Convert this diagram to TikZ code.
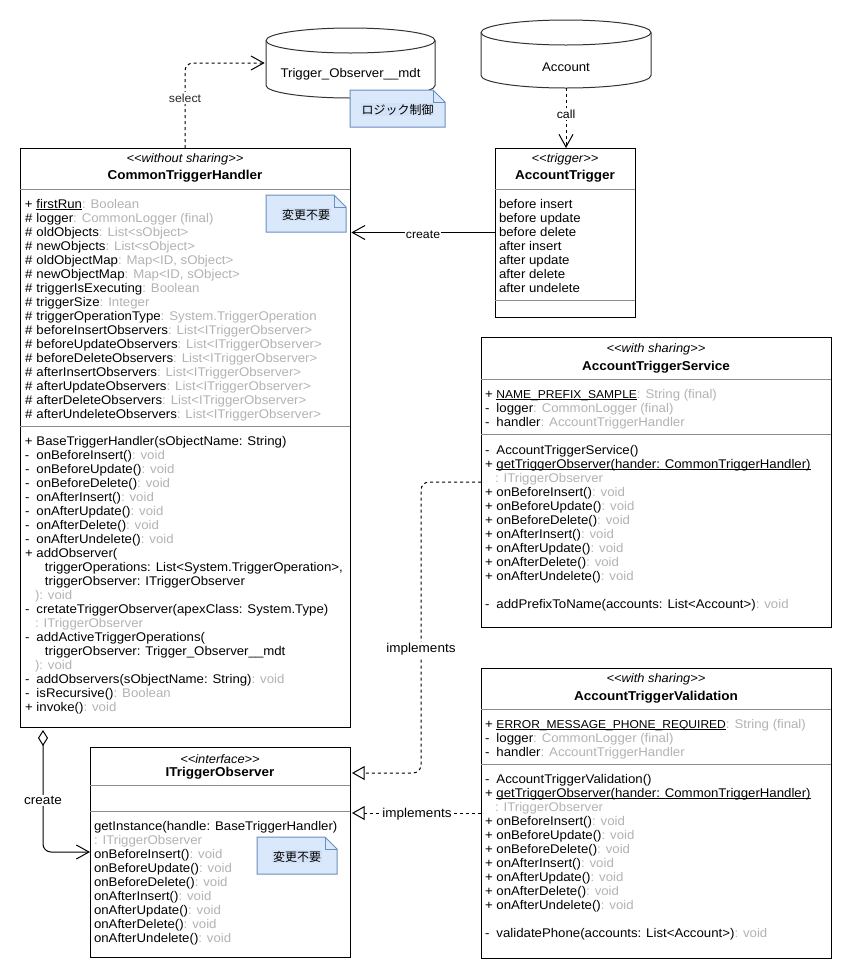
\documentclass[tikz,border=0pt]{standalone}
\usepackage{fontspec}
\setmainfont[FakeStretch=1.05,Ligatures=NoCommon]{Liberation Sans}
\newfontfamily\cjk{Noto Sans CJK JP}
\usetikzlibrary{arrows.meta,calc}
\definecolor{typegray}{HTML}{B3B3B3}
\definecolor{notefill}{HTML}{DAE8FC}
\definecolor{notetext}{HTML}{D2E1F6}
\definecolor{noteline}{HTML}{6C8EBF}
\newsavebox{\ulbox}
\newcommand{\ul}[1]{\sbox{\ulbox}{#1}\rlap{\rule[-1.1pt]{\wd\ulbox}{.55pt}}\usebox{\ulbox}}
\newcommand{\capsize}{\fontsize{8.6pt}{10.5pt}\selectfont}
\newcommand{\ty}[1]{\textcolor{typegray}{#1}}
\newcommand{\pl}{\makebox[8.6pt][l]{+}}
\newcommand{\mi}{\makebox[8.6pt][l]{-}}
\newcommand{\ha}{\makebox[8.6pt][l]{\#}}
\newcommand{\st}[1]{\textit{<{}<#1>{}>}}
\newcommand{\notebox}[6]{%
  \draw[notepath] (#1,#2) -- ++({#3-12},0) -- ++(12,12) -- ++(0,{#4-12}) -- ++(-#3,0) -- cycle;
  \draw[notepath,fill=none] ({#1+#3-12},#2) -- ++(0,12) -- ++(12,0);
  \node[notelabel] (#5) at ({#1+#3/2},{#2+#4/2+1}) {#6};}
\newcommand{\cyl}[5]{%
  \draw[dbline] (#1,{#2+12.5}) -- ++(0,{#4-25}) arc[start angle=180,end angle=0,x radius=#3/2,y radius=12.5] -- ++(0,{-(#4-25)}) arc[start angle=0,end angle=-180,x radius=#3/2,y radius=12.5] -- cycle;
  \draw[dbline,fill=none] (#1,{#2+12.5}) arc[start angle=180,end angle=0,x radius=#3/2,y radius=12.5];
  \node[dbnode,minimum width=#3*.75pt,minimum height=#4*.75pt] (#5) at ({#1+#3/2},{#2+#4/2}) {};}
\tikzset{
  x=.75pt,y=-.75pt,
  classbox/.style={draw=black,line width=.75pt,fill=white,anchor=north west,inner sep=0pt,outer sep=0pt},
  block/.style={anchor=north west,inner sep=0pt,outer sep=0pt,align=left,yshift=-1.1pt,font=\fontsize{9.45pt}{10.5pt}\selectfont},
  stereo/.style={inner sep=0pt,font=\fontsize{9.2pt}{10.5pt}\selectfont},
  title/.style={inner sep=0pt,font=\fontsize{9.65pt}{10.5pt}\selectfont\bfseries},
  plain/.style={inner sep=0pt,font=\fontsize{9.45pt}{10.5pt}\selectfont},
  divider/.style={draw=black!45,line width=.75pt},
  notepath/.style={draw=noteline,fill=notefill,line width=.75pt},
  notelabel/.style={inner sep=.5pt,fill=notetext,font=\fontsize{9pt}{10.5pt}\selectfont\cjk},
  dbline/.style={draw=black!80,fill=white,line width=.75pt},
  dbnode/.style={inner sep=0pt,outer sep=0pt},
  conn/.style={line width=.75pt,draw=black,rounded corners=6pt},
  dep/.style={conn,dash pattern=on 2.25pt off 2.25pt},
  openhead/.style={-{Straight Barb[length=9.5pt,width=10.5pt,line width=.75pt]}},
  hollow/.style={-{Triangle[open,fill=white,length=9.5pt,width=10.5pt,line width=.75pt]},shorten >=1.5pt},
  edgelabel/.style={inner sep=1pt,fill=white,font=\fontsize{8.8pt}{10pt}\selectfont},
  biglabel/.style={edgelabel,font=\fontsize{9.65pt}{10pt}\selectfont},
}
\begin{document}
\begin{tikzpicture}
\useasboundingbox[fill=white] (0,0) rectangle (851,979);

% databases
\cyl{266}{28}{169}{70}{mdt}
\cyl{481}{20}{170}{68}{acct}
\node[plain] (mdttext) at (350.5,74) {Trigger\_Observer\_\_mdt};
\node[plain] (accttext) at (566,67) {Account};
\notebox{350}{90}{95}{37}{noteLogic}{ロジック制御}

% CommonTriggerHandler
\node[classbox,minimum width=247.5pt,minimum height=434.25pt] (handler) at (20,148) {};
\draw[divider] ($(handler.north west)+(0,41)$) -- ++(330,0);
\draw[divider] ($(handler.north west)+(0,278)$) -- ++(330,0);
\node[stereo] (handlerst) at (185,159) {\st{without sharing}};
\node[title] (handlertt) at (185,176) {CommonTriggerHandler};
\node[block] (handlerattr) at (25,197) {\strut\pl\ul{firstRun}\ty{: Boolean}\\
\strut\ha logger\ty{: CommonLogger (final)}\\
\strut\ha oldObjects\ty{: List<sObject>}\\
\strut\ha newObjects\ty{: List<sObject>}\\
\strut\ha oldObjectMap\ty{: Map<ID, sObject>}\\
\strut\ha newObjectMap\ty{: Map<ID, sObject>}\\
\strut\ha triggerIsExecuting\ty{: Boolean}\\
\strut\ha triggerSize\ty{: Integer}\\
\strut\ha triggerOperationType\ty{: System.TriggerOperation}\\
\strut\ha beforeInsertObservers\ty{: List<ITriggerObserver>}\\
\strut\ha beforeUpdateObservers\ty{: List<ITriggerObserver>}\\
\strut\ha beforeDeleteObservers\ty{: List<ITriggerObserver>}\\
\strut\ha afterInsertObservers\ty{: List<ITriggerObserver>}\\
\strut\ha afterUpdateObservers\ty{: List<ITriggerObserver>}\\
\strut\ha afterDeleteObservers\ty{: List<ITriggerObserver>}\\
\strut\ha afterUndeleteObservers\ty{: List<ITriggerObserver>}};
\node[block] (handlermeth) at (25,434) {\strut\pl BaseTriggerHandler(sObjectName: String)\\
\strut\mi onBeforeInsert()\ty{: void}\\
\strut\mi onBeforeUpdate()\ty{: void}\\
\strut\mi onBeforeDelete()\ty{: void}\\
\strut\mi onAfterInsert()\ty{: void}\\
\strut\mi onAfterUpdate()\ty{: void}\\
\strut\mi onAfterDelete()\ty{: void}\\
\strut\mi onAfterUndelete()\ty{: void}\\
\strut\pl addObserver(\\
\strut\hspace*{15pt}triggerOperations: List<System.TriggerOperation>,\\
\strut\hspace*{15pt}triggerObserver: ITriggerObserver\\
\strut\hspace*{7.5pt}\ty{): void}\\
\strut\mi cretateTriggerObserver(apexClass: System.Type)\\
\strut\hspace*{7.5pt}\ty{: ITriggerObserver}\\
\strut\mi addActiveTriggerOperations(\\
\strut\hspace*{15pt}triggerObserver: Trigger\_Observer\_\_mdt\\
\strut\hspace*{7.5pt}\ty{): void}\\
\strut\mi addObservers(sObjectName: String)\ty{: void}\\
\strut\mi isRecursive()\ty{: Boolean}\\
\strut\pl invoke()\ty{: void}};
\notebox{266}{195}{80}{37}{noteHandler}{変更不要}

% AccountTrigger
\node[classbox,minimum width=105pt,minimum height=126.75pt] (trigger) at (495,148) {};
\draw[divider] ($(trigger.north west)+(0,41)$) -- ++(140,0);
\draw[divider] ($(trigger.north west)+(0,152)$) -- ++(140,0);
\node[stereo] (triggerst) at (565,159) {\st{trigger}};
\node[title] (triggertt) at (565,176) {AccountTrigger};
\node[block] (triggerattr) at (499,197) {\strut before insert\\
\strut before update\\
\strut before delete\\
\strut after insert\\
\strut after update\\
\strut after delete\\
\strut after undelete};

% AccountTriggerService
\node[classbox,minimum width=262.5pt,minimum height=217.5pt] (service) at (481,337) {};
\draw[divider] ($(service.north west)+(0,42)$) -- ++(350,0);
\draw[divider] ($(service.north west)+(0,97)$) -- ++(350,0);
\node[stereo] (servicest) at (656,349) {\st{with sharing}};
\node[title] (servicett) at (656,367) {AccountTriggerService};
\node[block] (serviceattr) at (485,387) {\strut\pl\ul{\capsize NAME\_PREFIX\_SAMPLE}\ty{: String (final)}\\
\strut\mi logger\ty{: CommonLogger (final)}\\
\strut\mi handler\ty{: AccountTriggerHandler}};
\node[block] (servicemeth) at (485,443) {\strut\mi AccountTriggerService()\\
\strut\pl\ul{getTriggerObserver(hander: CommonTriggerHandler)}\\
\strut\hspace*{7.5pt}\ty{: ITriggerObserver}\\
\strut\pl onBeforeInsert()\ty{: void}\\
\strut\pl onBeforeUpdate()\ty{: void}\\
\strut\pl onBeforeDelete()\ty{: void}\\
\strut\pl onAfterInsert()\ty{: void}\\
\strut\pl onAfterUpdate()\ty{: void}\\
\strut\pl onAfterDelete()\ty{: void}\\
\strut\pl onAfterUndelete()\ty{: void}\\
\strut\\
\strut\mi addPrefixToName(accounts: List<Account>)\ty{: void}};

% AccountTriggerValidation
\node[classbox,minimum width=262.5pt,minimum height=217.5pt] (validation) at (481,668) {};
\draw[divider] ($(validation.north west)+(0,41)$) -- ++(350,0);
\draw[divider] ($(validation.north west)+(0,96)$) -- ++(350,0);
\node[stereo] (validationst) at (656,679) {\st{with sharing}};
\node[title] (validationtt) at (656,697) {AccountTriggerValidation};
\node[block] (validationattr) at (485,717) {\strut\pl\ul{\capsize ERROR\_MESSAGE\_PHONE\_REQUIRED}\ty{: String (final)}\\
\strut\mi logger\ty{: CommonLogger (final)}\\
\strut\mi handler\ty{: AccountTriggerHandler}};
\node[block] (validationmeth) at (485,772) {\strut\mi AccountTriggerValidation()\\
\strut\pl\ul{getTriggerObserver(hander: CommonTriggerHandler)}\\
\strut\hspace*{7.5pt}\ty{: ITriggerObserver}\\
\strut\pl onBeforeInsert()\ty{: void}\\
\strut\pl onBeforeUpdate()\ty{: void}\\
\strut\pl onBeforeDelete()\ty{: void}\\
\strut\pl onAfterInsert()\ty{: void}\\
\strut\pl onAfterUpdate()\ty{: void}\\
\strut\pl onAfterDelete()\ty{: void}\\
\strut\pl onAfterUndelete()\ty{: void}\\
\strut\\
\strut\mi validatePhone(accounts: List<Account>)\ty{: void}};

% ITriggerObserver
\node[classbox,minimum width=195pt,minimum height=157.5pt] (iface) at (90,747) {};
\draw[divider] ($(iface.north west)+(0,38)$) -- ++(260,0);
\draw[divider] ($(iface.north west)+(0,64)$) -- ++(260,0);
\node[stereo] (ifacest) at (220,759) {\st{interface}};
\node[title] (ifacett) at (220,773) {ITriggerObserver};
\node[block] (ifacemeth) at (94,819) {\strut getInstance(handle: BaseTriggerHandler)\\
\strut\ty{: ITriggerObserver}\\
\strut onBeforeInsert()\ty{: void}\\
\strut onBeforeUpdate()\ty{: void}\\
\strut onBeforeDelete()\ty{: void}\\
\strut onAfterInsert()\ty{: void}\\
\strut onAfterUpdate()\ty{: void}\\
\strut onAfterDelete()\ty{: void}\\
\strut onAfterUndelete()\ty{: void}};
\notebox{257}{837}{80}{37}{noteIface}{変更不要}

% connectors
\draw[dep,openhead,shorten >=1pt] (handler.north) |- (mdt.west);
\node[edgelabel,text=black!85] (lblselect) at (185,98) {select};
\draw[dep,openhead] (acct.south) -- (acct.south |- trigger.north);
\node[edgelabel] (lblcall) at (566,114) {call};
\draw[conn,openhead,shorten >=1pt] (trigger.west) -- (trigger.west -| handler.east);
\node[edgelabel] (lblcreate) at (423,235) {create};
\coordinate (ifaceUpper) at (iface.east |- 0,773);
\coordinate (serviceBend) at (421,0);
\draw[dep,hollow] (service.west) -| (serviceBend |- ifaceUpper) -- (ifaceUpper);
\node[biglabel] (lblimpl) at (421,649.5) {implements};
\draw[dep,hollow] (validation.west) -- (validation.west -| iface.east);
\node[biglabel] (lblimpl2) at (417,814.5) {implements};
\coordinate (aggStart) at (43,727);
\draw[conn,shorten <=2.25pt,{Diamond[open,fill=white,length=12pt,width=7.5pt,line width=.75pt]}-{Straight Barb[length=9.5pt,width=10.5pt,line width=.75pt]}] (aggStart) |- (iface.west);
\node[biglabel] (lblagg) at (43,800.5) {create};
\end{tikzpicture}
\end{document}
